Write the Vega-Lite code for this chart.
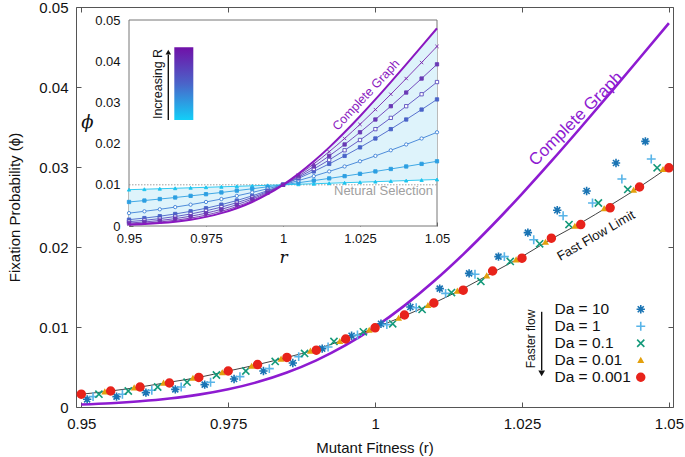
{
"$schema": "https://vega.github.io/schema/vega-lite/v6.json",
"width": 597, "height": 400,
"autosize": "none",
"padding": {"left": 76, "top": 7, "right": 12, "bottom": 50},
"config": {
  "font": "Liberation Sans, sans-serif",
  "view": {"stroke": "#555", "strokeWidth": 1},
  "axis": {"grid": false, "labelColor": "#111", "titleColor": "#111", "tickColor": "#555", "labelFlush": false, "labelOverlap": false, "titleFontWeight": "normal", "domain": false},
  "legend": {"orient": "none", "legendX": 557, "legendY": 294.5, "labelFontSize": 15.5, "rowPadding": -0.3, "symbolOffset": 0, "labelAlign": "left", "labelOffset": -94, "symbolStrokeWidth": 1.6, "labelColor": "#111"}
},
"datasets": {
"inset": [
{"r":0.95,"phi":0.008814,"s":"R1"},{"r":0.955,"phi":0.008928,"s":"R1"},{"r":0.96,"phi":0.009043,"s":"R1"},{"r":0.965,"phi":0.009159,"s":"R1"},{"r":0.97,"phi":0.009276,"s":"R1"},{"r":0.975,"phi":0.009394,"s":"R1"},{"r":0.98,"phi":0.009513,"s":"R1"},{"r":0.985,"phi":0.009634,"s":"R1"},{"r":0.99,"phi":0.009755,"s":"R1"},{"r":0.995,"phi":0.009877,"s":"R1"},{"r":1.0,"phi":0.01,"s":"R1"},{"r":1.005,"phi":0.010124,"s":"R1"},{"r":1.01,"phi":0.01025,"s":"R1"},{"r":1.015,"phi":0.010376,"s":"R1"},{"r":1.02,"phi":0.010503,"s":"R1"},{"r":1.025,"phi":0.010632,"s":"R1"},{"r":1.03,"phi":0.010761,"s":"R1"},{"r":1.035,"phi":0.010892,"s":"R1"},{"r":1.04,"phi":0.011023,"s":"R1"},{"r":1.045,"phi":0.011156,"s":"R1"},{"r":1.05,"phi":0.01129,"s":"R1"},
{"r":0.95,"phi":0.005833,"s":"R2"},{"r":0.955,"phi":0.00618,"s":"R2"},{"r":0.96,"phi":0.006543,"s":"R2"},{"r":0.965,"phi":0.00692,"s":"R2"},{"r":0.97,"phi":0.007313,"s":"R2"},{"r":0.975,"phi":0.007722,"s":"R2"},{"r":0.98,"phi":0.008146,"s":"R2"},{"r":0.985,"phi":0.008586,"s":"R2"},{"r":0.99,"phi":0.009041,"s":"R2"},{"r":0.995,"phi":0.009513,"s":"R2"},{"r":1.0,"phi":0.01,"s":"R2"},{"r":1.005,"phi":0.010503,"s":"R2"},{"r":1.01,"phi":0.011021,"s":"R2"},{"r":1.015,"phi":0.011555,"s":"R2"},{"r":1.02,"phi":0.012104,"s":"R2"},{"r":1.025,"phi":0.012669,"s":"R2"},{"r":1.03,"phi":0.013248,"s":"R2"},{"r":1.035,"phi":0.013841,"s":"R2"},{"r":1.04,"phi":0.01445,"s":"R2"},{"r":1.045,"phi":0.015072,"s":"R2"},{"r":1.05,"phi":0.015708,"s":"R2"},
{"r":0.95,"phi":0.003121,"s":"R3"},{"r":0.955,"phi":0.003567,"s":"R3"},{"r":0.96,"phi":0.004052,"s":"R3"},{"r":0.965,"phi":0.004589,"s":"R3"},{"r":0.97,"phi":0.005182,"s":"R3"},{"r":0.975,"phi":0.005833,"s":"R3"},{"r":0.98,"phi":0.006543,"s":"R3"},{"r":0.985,"phi":0.007313,"s":"R3"},{"r":0.99,"phi":0.008146,"s":"R3"},{"r":0.995,"phi":0.009041,"s":"R3"},{"r":1.0,"phi":0.01,"s":"R3"},{"r":1.005,"phi":0.011021,"s":"R3"},{"r":1.01,"phi":0.012104,"s":"R3"},{"r":1.015,"phi":0.013248,"s":"R3"},{"r":1.02,"phi":0.01445,"s":"R3"},{"r":1.025,"phi":0.015708,"s":"R3"},{"r":1.03,"phi":0.017019,"s":"R3"},{"r":1.035,"phi":0.018381,"s":"R3"},{"r":1.04,"phi":0.019789,"s":"R3"},{"r":1.045,"phi":0.021241,"s":"R3"},{"r":1.05,"phi":0.022747,"s":"R3"},
{"r":0.95,"phi":0.001544,"s":"R4"},{"r":0.955,"phi":0.001921,"s":"R4"},{"r":0.96,"phi":0.002376,"s":"R4"},{"r":0.965,"phi":0.002918,"s":"R4"},{"r":0.97,"phi":0.003567,"s":"R4"},{"r":0.975,"phi":0.00431,"s":"R4"},{"r":0.98,"phi":0.005182,"s":"R4"},{"r":0.985,"phi":0.00618,"s":"R4"},{"r":0.99,"phi":0.007313,"s":"R4"},{"r":0.995,"phi":0.008586,"s":"R4"},{"r":1.0,"phi":0.01,"s":"R4"},{"r":1.005,"phi":0.011555,"s":"R4"},{"r":1.01,"phi":0.013248,"s":"R4"},{"r":1.015,"phi":0.015072,"s":"R4"},{"r":1.02,"phi":0.017019,"s":"R4"},{"r":1.025,"phi":0.019083,"s":"R4"},{"r":1.03,"phi":0.021241,"s":"R4"},{"r":1.035,"phi":0.02351,"s":"R4"},{"r":1.04,"phi":0.02585,"s":"R4"},{"r":1.045,"phi":0.028259,"s":"R4"},{"r":1.05,"phi":0.030724,"s":"R4"},
{"r":0.95,"phi":0.001059,"s":"R5"},{"r":0.955,"phi":0.001381,"s":"R5"},{"r":0.96,"phi":0.001788,"s":"R5"},{"r":0.965,"phi":0.002294,"s":"R5"},{"r":0.97,"phi":0.002918,"s":"R5"},{"r":0.975,"phi":0.003683,"s":"R5"},{"r":0.98,"phi":0.004589,"s":"R5"},{"r":0.985,"phi":0.005665,"s":"R5"},{"r":0.99,"phi":0.00692,"s":"R5"},{"r":0.995,"phi":0.008364,"s":"R5"},{"r":1.0,"phi":0.01,"s":"R5"},{"r":1.005,"phi":0.011828,"s":"R5"},{"r":1.01,"phi":0.013841,"s":"R5"},{"r":1.015,"phi":0.016031,"s":"R5"},{"r":1.02,"phi":0.018381,"s":"R5"},{"r":1.025,"phi":0.020874,"s":"R5"},{"r":1.03,"phi":0.02351,"s":"R5"},{"r":1.035,"phi":0.026247,"s":"R5"},{"r":1.04,"phi":0.029075,"s":"R5"},{"r":1.045,"phi":0.031977,"s":"R5"},{"r":1.05,"phi":0.034936,"s":"R5"},
{"r":0.95,"phi":0.000715,"s":"R6"},{"r":0.955,"phi":0.00098,"s":"R6"},{"r":0.96,"phi":0.00133,"s":"R6"},{"r":0.965,"phi":0.001788,"s":"R6"},{"r":0.97,"phi":0.002376,"s":"R6"},{"r":0.975,"phi":0.003121,"s":"R6"},{"r":0.98,"phi":0.004052,"s":"R6"},{"r":0.985,"phi":0.005182,"s":"R6"},{"r":0.99,"phi":0.006543,"s":"R6"},{"r":0.995,"phi":0.008146,"s":"R6"},{"r":1.0,"phi":0.01,"s":"R6"},{"r":1.005,"phi":0.012104,"s":"R6"},{"r":1.01,"phi":0.01445,"s":"R6"},{"r":1.015,"phi":0.017019,"s":"R6"},{"r":1.02,"phi":0.019789,"s":"R6"},{"r":1.025,"phi":0.022747,"s":"R6"},{"r":1.03,"phi":0.02585,"s":"R6"},{"r":1.035,"phi":0.029075,"s":"R6"},{"r":1.04,"phi":0.032396,"s":"R6"},{"r":1.045,"phi":0.035791,"s":"R6"},{"r":1.05,"phi":0.039239,"s":"R6"},
{"r":0.95,"phi":0.000476,"s":"R7"},{"r":0.955,"phi":0.000687,"s":"R7"},{"r":0.96,"phi":0.00098,"s":"R7"},{"r":0.965,"phi":0.001381,"s":"R7"},{"r":0.97,"phi":0.001921,"s":"R7"},{"r":0.975,"phi":0.002635,"s":"R7"},{"r":0.98,"phi":0.003567,"s":"R7"},{"r":0.985,"phi":0.004732,"s":"R7"},{"r":0.99,"phi":0.00618,"s":"R7"},{"r":0.995,"phi":0.007932,"s":"R7"},{"r":1.0,"phi":0.01,"s":"R7"},{"r":1.005,"phi":0.012385,"s":"R7"},{"r":1.01,"phi":0.015072,"s":"R7"},{"r":1.015,"phi":0.018036,"s":"R7"},{"r":1.02,"phi":0.021241,"s":"R7"},{"r":1.025,"phi":0.024671,"s":"R7"},{"r":1.03,"phi":0.028259,"s":"R7"},{"r":1.035,"phi":0.031977,"s":"R7"},{"r":1.04,"phi":0.035791,"s":"R7"},{"r":1.045,"phi":0.039672,"s":"R7"},{"r":1.05,"phi":0.043596,"s":"R7"},
{"r":0.95,"phi":0.000313,"s":"CG"},{"r":0.955,"phi":0.000476,"s":"CG"},{"r":0.96,"phi":0.000715,"s":"CG"},{"r":0.965,"phi":0.001059,"s":"CG"},{"r":0.97,"phi":0.001544,"s":"CG"},{"r":0.975,"phi":0.002215,"s":"CG"},{"r":0.98,"phi":0.003121,"s":"CG"},{"r":0.985,"phi":0.00431,"s":"CG"},{"r":0.99,"phi":0.005832,"s":"CG"},{"r":0.995,"phi":0.007721,"s":"CG"},{"r":1.0,"phi":0.01,"s":"CG"},{"r":1.005,"phi":0.012669,"s":"CG"},{"r":1.01,"phi":0.015708,"s":"CG"},{"r":1.015,"phi":0.019083,"s":"CG"},{"r":1.02,"phi":0.022747,"s":"CG"},{"r":1.025,"phi":0.026646,"s":"CG"},{"r":1.03,"phi":0.030724,"s":"CG"},{"r":1.035,"phi":0.034936,"s":"CG"},{"r":1.04,"phi":0.039239,"s":"CG"},{"r":1.045,"phi":0.043596,"s":"CG"},{"r":1.05,"phi":0.047984,"s":"CG"}
],
"ff": [
{"r":0.95,"phi":0.0016},{"r":0.955,"phi":0.002},{"r":0.96,"phi":0.0025},{"r":0.965,"phi":0.0031},{"r":0.97,"phi":0.0037},{"r":0.975,"phi":0.0045},{"r":0.98,"phi":0.0053},{"r":0.985,"phi":0.0062},{"r":0.99,"phi":0.0072},{"r":0.995,"phi":0.0085},{"r":1.0,"phi":0.0099},{"r":1.005,"phi":0.0114},{"r":1.01,"phi":0.013},{"r":1.015,"phi":0.0148},{"r":1.02,"phi":0.0168},{"r":1.025,"phi":0.0188},{"r":1.03,"phi":0.021},{"r":1.035,"phi":0.023},{"r":1.04,"phi":0.0252},{"r":1.045,"phi":0.0275},{"r":1.05,"phi":0.03}
],
"sim": [
{"r":0.951,"phi":0.00096,"s":"Da = 10"},{"r":0.956,"phi":0.0013,"s":"Da = 10"},{"r":0.961,"phi":0.0018,"s":"Da = 10"},{"r":0.966,"phi":0.0022,"s":"Da = 10"},{"r":0.971,"phi":0.0028,"s":"Da = 10"},{"r":0.976,"phi":0.0035,"s":"Da = 10"},{"r":0.981,"phi":0.0045,"s":"Da = 10"},{"r":0.986,"phi":0.0055,"s":"Da = 10"},{"r":0.991,"phi":0.0073,"s":"Da = 10"},{"r":0.996,"phi":0.0089,"s":"Da = 10"},{"r":1.001,"phi":0.0104,"s":"Da = 10"},{"r":1.006,"phi":0.0125,"s":"Da = 10"},{"r":1.011,"phi":0.0148,"s":"Da = 10"},{"r":1.016,"phi":0.0167,"s":"Da = 10"},{"r":1.021,"phi":0.0188,"s":"Da = 10"},{"r":1.026,"phi":0.0218,"s":"Da = 10"},{"r":1.031,"phi":0.0246,"s":"Da = 10"},{"r":1.036,"phi":0.027,"s":"Da = 10"},{"r":1.041,"phi":0.0305,"s":"Da = 10"},{"r":1.046,"phi":0.0332,"s":"Da = 10"},
{"r":0.952,"phi":0.0013,"s":"Da = 1"},{"r":0.957,"phi":0.0016,"s":"Da = 1"},{"r":0.962,"phi":0.0021,"s":"Da = 1"},{"r":0.967,"phi":0.0025,"s":"Da = 1"},{"r":0.972,"phi":0.0031,"s":"Da = 1"},{"r":0.977,"phi":0.0038,"s":"Da = 1"},{"r":0.982,"phi":0.0048,"s":"Da = 1"},{"r":0.987,"phi":0.0063,"s":"Da = 1"},{"r":0.992,"phi":0.0075,"s":"Da = 1"},{"r":0.997,"phi":0.009,"s":"Da = 1"},{"r":1.002,"phi":0.0103,"s":"Da = 1"},{"r":1.007,"phi":0.0124,"s":"Da = 1"},{"r":1.012,"phi":0.0142,"s":"Da = 1"},{"r":1.017,"phi":0.0166,"s":"Da = 1"},{"r":1.022,"phi":0.0188,"s":"Da = 1"},{"r":1.027,"phi":0.0209,"s":"Da = 1"},{"r":1.032,"phi":0.0239,"s":"Da = 1"},{"r":1.037,"phi":0.0255,"s":"Da = 1"},{"r":1.042,"phi":0.0285,"s":"Da = 1"},{"r":1.047,"phi":0.031,"s":"Da = 1"},
{"r":0.953,"phi":0.0016,"s":"Da = 0.1"},{"r":0.958,"phi":0.002,"s":"Da = 0.1"},{"r":0.963,"phi":0.0025,"s":"Da = 0.1"},{"r":0.968,"phi":0.0031,"s":"Da = 0.1"},{"r":0.973,"phi":0.004,"s":"Da = 0.1"},{"r":0.978,"phi":0.0045,"s":"Da = 0.1"},{"r":0.983,"phi":0.0057,"s":"Da = 0.1"},{"r":0.988,"phi":0.0067,"s":"Da = 0.1"},{"r":0.993,"phi":0.0082,"s":"Da = 0.1"},{"r":0.998,"phi":0.0094,"s":"Da = 0.1"},{"r":1.003,"phi":0.0104,"s":"Da = 0.1"},{"r":1.008,"phi":0.0122,"s":"Da = 0.1"},{"r":1.013,"phi":0.0143,"s":"Da = 0.1"},{"r":1.018,"phi":0.0157,"s":"Da = 0.1"},{"r":1.023,"phi":0.0182,"s":"Da = 0.1"},{"r":1.028,"phi":0.0204,"s":"Da = 0.1"},{"r":1.033,"phi":0.0228,"s":"Da = 0.1"},{"r":1.038,"phi":0.0255,"s":"Da = 0.1"},{"r":1.043,"phi":0.0272,"s":"Da = 0.1"},{"r":1.048,"phi":0.0299,"s":"Da = 0.1"},
{"r":0.954,"phi":0.0019,"s":"Da = 0.01"},{"r":0.959,"phi":0.0024,"s":"Da = 0.01"},{"r":0.964,"phi":0.003,"s":"Da = 0.01"},{"r":0.969,"phi":0.0036,"s":"Da = 0.01"},{"r":0.974,"phi":0.0043,"s":"Da = 0.01"},{"r":0.979,"phi":0.0051,"s":"Da = 0.01"},{"r":0.984,"phi":0.006,"s":"Da = 0.01"},{"r":0.989,"phi":0.007,"s":"Da = 0.01"},{"r":0.994,"phi":0.0082,"s":"Da = 0.01"},{"r":0.999,"phi":0.0096,"s":"Da = 0.01"},{"r":1.004,"phi":0.0111,"s":"Da = 0.01"},{"r":1.009,"phi":0.0127,"s":"Da = 0.01"},{"r":1.014,"phi":0.0145,"s":"Da = 0.01"},{"r":1.019,"phi":0.0164,"s":"Da = 0.01"},{"r":1.024,"phi":0.0184,"s":"Da = 0.01"},{"r":1.029,"phi":0.0206,"s":"Da = 0.01"},{"r":1.034,"phi":0.0226,"s":"Da = 0.01"},{"r":1.039,"phi":0.0248,"s":"Da = 0.01"},{"r":1.044,"phi":0.0271,"s":"Da = 0.01"},{"r":1.049,"phi":0.0297,"s":"Da = 0.01"},
{"r":0.95,"phi":0.0016,"s":"Da = 0.001"},{"r":0.955,"phi":0.002,"s":"Da = 0.001"},{"r":0.96,"phi":0.0025,"s":"Da = 0.001"},{"r":0.965,"phi":0.003,"s":"Da = 0.001"},{"r":0.97,"phi":0.0037,"s":"Da = 0.001"},{"r":0.975,"phi":0.0045,"s":"Da = 0.001"},{"r":0.98,"phi":0.0053,"s":"Da = 0.001"},{"r":0.985,"phi":0.0062,"s":"Da = 0.001"},{"r":0.99,"phi":0.0071,"s":"Da = 0.001"},{"r":0.995,"phi":0.0085,"s":"Da = 0.001"},{"r":1.0,"phi":0.0099,"s":"Da = 0.001"},{"r":1.005,"phi":0.0115,"s":"Da = 0.001"},{"r":1.01,"phi":0.013,"s":"Da = 0.001"},{"r":1.015,"phi":0.0146,"s":"Da = 0.001"},{"r":1.02,"phi":0.017,"s":"Da = 0.001"},{"r":1.025,"phi":0.0186,"s":"Da = 0.001"},{"r":1.03,"phi":0.0211,"s":"Da = 0.001"},{"r":1.035,"phi":0.0228,"s":"Da = 0.001"},{"r":1.04,"phi":0.0249,"s":"Da = 0.001"},{"r":1.045,"phi":0.0275,"s":"Da = 0.001"},{"r":1.05,"phi":0.0299,"s":"Da = 0.001"}
]
},
"layer": [
{
  "layer": [
    {
      "data": {"name": "inset"},
      "transform": [{"filter": "datum.s === 'CG'"}],
      "mark": {"type": "line", "color": "#8e1bd1", "strokeWidth": 2.6, "interpolate": "monotone"},
      "encoding": {
        "x": {"field": "r", "type": "quantitative", "scale": {"domain": [0.9491, 1.0507], "nice": false, "zero": false},
              "axis": {"orient": "bottom", "values": [0.95, 0.975, 1, 1.025, 1.05], "format": "~f", "title": "Mutant Fitness (r)", "tickSize": -5, "labelPadding": 14, "labelFontSize": 15, "titleFontSize": 15, "titleY": 40, "titleBaseline": "middle"}},
        "y": {"field": "phi", "type": "quantitative", "scale": {"domain": [0, 0.05], "nice": false},
              "axis": {"orient": "left", "values": [0, 0.01, 0.02, 0.03, 0.04, 0.05], "format": "~f", "title": "Fixation Probability (ϕ)", "tickSize": -5, "labelPadding": 13, "labelFontSize": 15, "titleFontSize": 15, "titleX": -62, "titleBaseline": "middle"}}
      }
    },
    {
      "data": {"name": "ff"},
      "mark": {"type": "line", "color": "#111", "strokeWidth": 0.8, "interpolate": "monotone"},
      "encoding": {"x": {"field": "r", "type": "quantitative"}, "y": {"field": "phi", "type": "quantitative"}}
    },
    {
      "data": {"name": "sim"},
      "mark": {"type": "point", "strokeWidth": 1.6, "opacity": 1},
      "encoding": {
        "x": {"field": "r", "type": "quantitative"},
        "y": {"field": "phi", "type": "quantitative"},
        "shape": {"field": "s", "type": "nominal", "legend": {"title": null},
                  "scale": {"domain": ["Da = 10", "Da = 1", "Da = 0.1", "Da = 0.01", "Da = 0.001"],
                            "range": ["M-1,0L1,0M0,-1L0,1M-0.72,-0.72L0.72,0.72M-0.72,0.72L0.72,-0.72", "M-1,0L1,0M0,-1L0,1", "M-0.8,-0.8L0.8,0.8M-0.8,0.8L0.8,-0.8", "triangle-up", "circle"]}},
        "stroke": {"field": "s", "type": "nominal", "legend": {"title": null},
                   "scale": {"domain": ["Da = 10", "Da = 1", "Da = 0.1", "Da = 0.01", "Da = 0.001"], "range": ["#1a74b4", "#58b4e8", "#13997a", "#e3a00d", "#e8231b"]}},
        "fill": {"field": "s", "type": "nominal", "legend": {"title": null},
                 "scale": {"domain": ["Da = 10", "Da = 1", "Da = 0.1", "Da = 0.01", "Da = 0.001"], "range": ["#1a74b4", "#58b4e8", "#13997a", "#e3a00d", "#e8231b"]}},
        "size": {"field": "s", "type": "nominal", "legend": {"title": null},
                 "scale": {"type": "ordinal", "domain": ["Da = 10", "Da = 1", "Da = 0.1", "Da = 0.01", "Da = 0.001"], "range": [70, 80, 80, 18, 62]}}
      }
    },
    {
      "data": {"values": [{}]},
      "mark": {"type": "text", "text": "Complete Graph", "angle": -45, "fontSize": 17, "color": "#8e1bd1", "align": "center", "baseline": "middle"},
      "encoding": {"x": {"datum": 1.0342, "type": "quantitative"}, "y": {"datum": 0.036, "type": "quantitative"}}
    },
    {
      "data": {"values": [{}]},
      "mark": {"type": "text", "text": "Fast Flow Limit", "angle": -30, "fontSize": 13, "color": "#111", "align": "center", "baseline": "middle"},
      "encoding": {"x": {"datum": 1.0376, "type": "quantitative"}, "y": {"datum": 0.0214, "type": "quantitative"}}
    },
    {
      "data": {"values": [{}]},
      "mark": {"type": "rule", "color": "#111", "strokeWidth": 1.4},
      "encoding": {"x": {"datum": 1.02835, "type": "quantitative"}, "y": {"datum": 0.0119, "type": "quantitative"}, "y2": {"datum": 0.0046}}
    },
    {
      "data": {"values": [{}]},
      "mark": {"type": "point", "shape": "triangle-down", "filled": true, "color": "#111", "size": 45, "opacity": 1},
      "encoding": {"x": {"datum": 1.02835, "type": "quantitative"}, "y": {"datum": 0.0042, "type": "quantitative"}}
    },
    {
      "data": {"values": [{}]},
      "mark": {"type": "text", "text": "Faster flow", "angle": -90, "fontSize": 12, "color": "#111", "align": "center", "baseline": "middle"},
      "encoding": {"x": {"datum": 1.0266, "type": "quantitative"}, "y": {"datum": 0.0085, "type": "quantitative"}}
    }
  ]
},
{
  "layer": [
    {
      "data": {"values": [{}]},
      "mark": {"type": "rect", "fill": "white", "stroke": "#777", "strokeWidth": 1},
      "encoding": {
        "x": {"datum": 0.95, "type": "quantitative", "scale": {"domain": [0.95, 1.05], "range": [53, 361], "nice": false, "zero": false},
              "axis": {"orient": "bottom", "offset": -181, "values": [0.95, 0.975, 1, 1.025, 1.05], "format": "~f", "title": "r", "titleFont": "DejaVu Serif", "titleFontStyle": "italic", "titleFontSize": 17, "titleX": 207, "titleY": 31, "titleBaseline": "middle", "tickSize": -4, "labelPadding": 10, "labelFontSize": 13}},
        "x2": {"datum": 1.05},
        "y": {"datum": 0, "type": "quantitative", "scale": {"domain": [0, 0.05], "range": [219, 13], "nice": false},
              "axis": {"orient": "left", "offset": -53, "values": [0, 0.01, 0.02, 0.03, 0.04, 0.05], "format": "~f", "title": "ϕ", "titleFont": "DejaVu Serif", "titleFontStyle": "italic", "titleFontSize": 18, "titleAngle": 0, "titleX": -42, "titleY": 115, "titleAlign": "center", "titleBaseline": "middle", "tickSize": -4, "labelPadding": 13, "labelFontSize": 13}},
        "y2": {"datum": 0.05}
      }
    },
    {
      "data": {"name": "inset"},
      "transform": [{"filter": "datum.s === 'R1' || datum.s === 'CG'"}, {"pivot": "s", "value": "phi", "groupby": ["r"]}],
      "mark": {"type": "area", "color": "#def3fb", "opacity": 1, "interpolate": "monotone"},
      "encoding": {"x": {"field": "r", "type": "quantitative"}, "y": {"field": "CG", "type": "quantitative"}, "y2": {"field": "R1"}}
    },
    {
      "data": {"values": [{}]},
      "mark": {"type": "rule", "color": "#888", "strokeWidth": 0.8, "strokeDash": [1.5, 1.5]},
      "encoding": {"x": {"datum": 0.95, "type": "quantitative"}, "x2": {"datum": 1.05}, "y": {"datum": 0.01, "type": "quantitative"}}
    },
    {
      "data": {"name": "inset"},
      "transform": [{"filter": "datum.s !== 'CG'"}],
      "mark": {"type": "line", "strokeWidth": 0.9, "interpolate": "monotone"},
      "encoding": {
        "x": {"field": "r", "type": "quantitative"}, "y": {"field": "phi", "type": "quantitative"},
        "stroke": {"field": "s", "type": "nominal", "legend": null, "scale": {"domain": ["R1", "R2", "R3", "R4", "R5", "R6", "R7"], "range": ["#1cc4ef", "#2c9fe2", "#3d80d6", "#4a63c8", "#5a4dbe", "#6a3ab5", "#7a28ad"]}}
      }
    },
    {
      "data": {"name": "inset"},
      "transform": [{"filter": "datum.s !== 'CG'"}],
      "mark": {"type": "point", "strokeWidth": 0.9, "opacity": 1, "size": 11},
      "encoding": {
        "x": {"field": "r", "type": "quantitative"}, "y": {"field": "phi", "type": "quantitative"},
        "stroke": {"field": "s", "type": "nominal", "legend": null, "scale": {"domain": ["R1", "R2", "R3", "R4", "R5", "R6", "R7"], "range": ["#1cc4ef", "#2c9fe2", "#3d80d6", "#4a63c8", "#5a4dbe", "#6a3ab5", "#7a28ad"]}},
        "fill": {"field": "s", "type": "nominal", "legend": null, "scale": {"domain": ["R1", "R2", "R3", "R4", "R5", "R6", "R7"], "range": ["#1cc4ef", "#2c9fe2", "#ffffff", "#4a63c8", "#ffffff", "#6a3ab5", "#7a28ad"]}},
        "shape": {"field": "s", "type": "nominal", "legend": null, "scale": {"domain": ["R1", "R2", "R3", "R4", "R5", "R6", "R7"], "range": ["triangle-up", "square", "circle", "square", "square", "square", "M-1,-1L1,1M-1,1L1,-1"]}}
      }
    },
    {
      "data": {"name": "inset"},
      "transform": [{"filter": "datum.s === 'CG'"}],
      "mark": {"type": "line", "color": "#8a18c0", "strokeWidth": 2, "interpolate": "monotone"},
      "encoding": {"x": {"field": "r", "type": "quantitative"}, "y": {"field": "phi", "type": "quantitative"}}
    },
    {
      "data": {"values": [{}]},
      "mark": {"type": "text", "text": "Complete Graph", "angle": -47, "fontSize": 12.5, "color": "#8a18c0", "align": "center", "baseline": "middle"},
      "encoding": {"x": {"datum": 1.02695, "type": "quantitative"}, "y": {"datum": 0.0318, "type": "quantitative"}}
    },
    {
      "data": {"values": [{}]},
      "mark": {"type": "text", "text": "Netural Selection", "fontSize": 13, "color": "#a0a0a0", "align": "right", "baseline": "middle"},
      "encoding": {"x": {"datum": 1.0487, "type": "quantitative"}, "y": {"datum": 0.00857, "type": "quantitative"}}
    },
    {
      "data": {"values": [{}]},
      "mark": {"type": "rect", "color": {"gradient": "linear", "x1": 0, "y1": 1, "x2": 0, "y2": 0, "stops": [{"offset": 0, "color": "#12cff8"}, {"offset": 0.5, "color": "#4a64c9"}, {"offset": 1, "color": "#7010a8"}]}},
      "encoding": {"x": {"datum": 0.96471, "type": "quantitative"}, "x2": {"datum": 0.97088}, "y": {"datum": 0.02573, "type": "quantitative"}, "y2": {"datum": 0.04337}}
    },
    {
      "data": {"values": [{}]},
      "mark": {"type": "rule", "color": "#111", "strokeWidth": 1.4},
      "encoding": {"x": {"datum": 0.96276, "type": "quantitative"}, "y": {"datum": 0.02573, "type": "quantitative"}, "y2": {"datum": 0.0416}}
    },
    {
      "data": {"values": [{}]},
      "mark": {"type": "point", "shape": "triangle-up", "filled": true, "color": "#111", "size": 30, "opacity": 1},
      "encoding": {"x": {"datum": 0.96276, "type": "quantitative"}, "y": {"datum": 0.0422, "type": "quantitative"}}
    },
    {
      "data": {"values": [{}]},
      "mark": {"type": "text", "text": "Increasing R", "angle": -90, "fontSize": 12.5, "color": "#111", "align": "center", "baseline": "middle"},
      "encoding": {"x": {"datum": 0.95942, "type": "quantitative"}, "y": {"datum": 0.03447, "type": "quantitative"}}
    }
  ]
},
{
  "data": {"name": "ff"},
  "mark": {"type": "point", "opacity": 0},
  "encoding": {
    "x": {"field": "r", "type": "quantitative", "scale": {"domain": [0.9491, 1.0507], "nice": false, "zero": false},
          "axis": {"orient": "top", "values": [0.95, 0.975, 1, 1.025, 1.05], "labels": false, "title": null, "tickSize": -5}},
    "y": {"field": "phi", "type": "quantitative", "scale": {"domain": [0, 0.05], "nice": false},
          "axis": {"orient": "right", "values": [0, 0.01, 0.02, 0.03, 0.04, 0.05], "labels": false, "title": null, "tickSize": -5}}
  }
}
],
"resolve": {"scale": {"x": "independent", "y": "independent", "stroke": "independent", "fill": "independent", "shape": "independent", "size": "independent"}}
}
